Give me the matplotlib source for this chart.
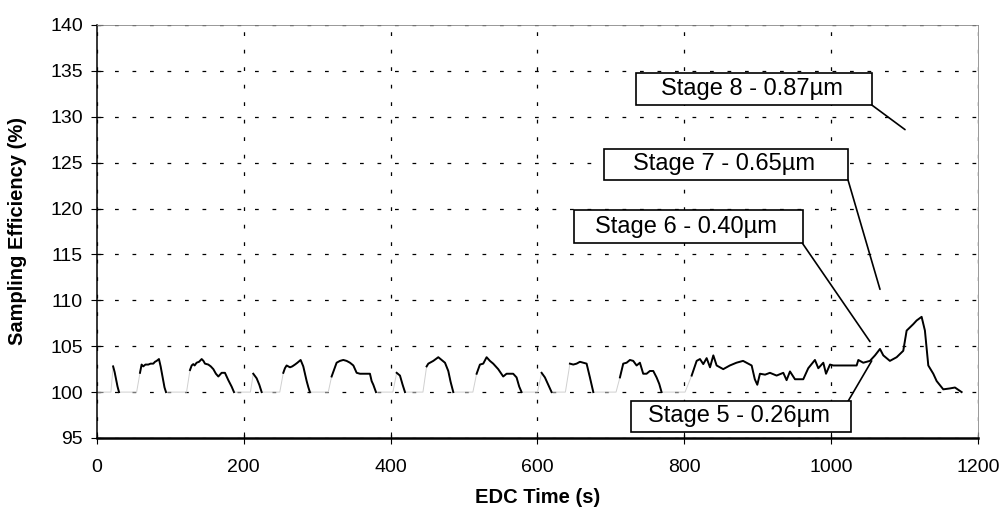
import numpy as np
import matplotlib.pyplot as plt
from matplotlib.patches import Rectangle

plt.rcParams['font.family'] = ['Liberation Sans', 'DejaVu Sans']

# pulses (time in s, efficiency in %)
pulse_times = [
    [22, 24, 26, 28, 30],
    [58.6, 60.8, 63, 66, 70, 73, 76.7, 79, 81.3, 84.4, 86.7, 88.5, 90.3, 92, 94],
    [126.7, 129, 131.2, 133, 135.7, 139, 142.6, 145, 147.1, 151.6, 155, 158.5, 162,
     165.3, 167.5, 169.8, 174.3, 176, 178.9, 183.4, 186.6],
    [212.9, 217.5, 221.1, 224.3],
    [253.8, 256, 258.3, 262.9, 266, 269.7, 273, 277.4, 281, 283, 285.6, 288, 290],
    [319.6, 326.4, 331, 335.5, 340, 344.6, 349.2, 353.7, 358.2, 362.8, 367.3, 371.8,
     374.1, 376.4, 380],
    [408.2, 412.7, 416.3, 419.5],
    [449, 451.3, 458.1, 464.9, 469.4, 474, 478.5, 481.7, 485.3],
    [517.1, 521.6, 526.1, 530.7, 535.2, 539.7, 546.5, 553.3, 557.9, 562.4, 566.9,
     571.5, 575.1, 578.3],
    [605.6, 610.1, 614.7, 619.2],
    [644.2, 648.7, 653.3, 657.8, 662.3, 666.9, 671.4, 676],
    [712.3, 716.8, 721.4, 725.9, 730.4, 735, 739.5, 744, 748.6, 753.1, 757.7, 762.2,
     765.8, 769],
    [810, 816.8, 821.3, 825.8, 830.4, 835, 839.5, 844, 853, 862, 871, 880, 891.7, 896,
     899.4, 903, 910, 916.6, 925.7, 934.8, 939.3, 943.9, 950.7, 962, 968.8, 977.9,
     982.5, 989.3, 993, 998.4, 1002.9, 1016.5, 1034.7, 1037, 1043.7, 1052.8, 1059.7,
     1066.5, 1071, 1080, 1089.2, 1098.2, 1102.8, 1107.3, 1111.8, 1116.4, 1123.2,
     1127.7, 1132.3, 1139.1, 1143.7, 1152.7, 1161.8, 1168.6, 1177.7],
]
pulse_effs = [
    [102.8, 102.2, 101.4, 100.6, 100.0],
    [102.1, 103.0, 102.8, 103.0, 103.0, 103.1, 103.1, 103.3, 103.4, 103.6, 102.8,
     102.0, 101.2, 100.5, 100.0],
    [102.4, 102.9, 103.05, 102.9, 103.2, 103.3, 103.6, 103.4, 103.1, 103.0, 102.8,
     102.5, 102.0, 101.7, 101.9, 102.1, 102.1, 101.8, 101.3, 100.6, 100.0],
    [102.0, 101.5, 100.8, 100.0],
    [102.1, 102.6, 102.9, 102.7, 102.8, 103.0, 103.2, 103.5, 102.8, 102.1, 101.2,
     100.5, 100.0],
    [101.7, 103.2, 103.4, 103.5, 103.4, 103.2, 102.9, 102.1, 102.0, 102.0, 102.0,
     102.0, 101.2, 100.8, 100.0],
    [102.1, 101.8, 100.8, 100.0],
    [102.8, 103.1, 103.4, 103.8, 103.5, 103.2, 102.3, 101.1, 100.0],
    [102.0, 103.0, 103.1, 103.8, 103.4, 103.1, 102.5, 101.7, 102.0, 102.0, 102.0,
     101.6, 100.6, 100.0],
    [102.1, 101.6, 100.8, 100.0],
    [103.1, 103.0, 103.1, 103.3, 103.2, 103.1, 101.6, 100.0],
    [101.6, 103.1, 103.2, 103.5, 103.4, 102.9, 103.2, 102.0, 102.0, 102.3, 102.3,
     101.6, 100.9, 100.0],
    [101.8, 103.4, 103.6, 103.05, 103.7, 102.7, 104.0, 102.9, 102.5, 102.9, 103.2,
     103.4, 102.9, 101.4, 100.8, 102.0, 101.9, 102.1, 101.8, 102.1, 101.3, 102.25,
     101.4, 101.4, 102.6, 103.5, 102.6, 103.2, 102.0, 103.0, 102.9, 102.9, 102.9,
     103.5, 103.2, 103.4, 104.0, 104.7, 104.0, 103.4, 103.8, 104.5, 106.7, 107.05,
     107.4, 107.8, 108.2, 106.7, 102.9, 102.0, 101.2, 100.3, 100.4, 100.5, 100.0],
]
# time at which each pulse leaves the 100 % baseline
rise_start = [19, 54, 122, 209, 249, 315, 403, 444, 512, 600, 638, 707, 801]
baseline = 100.0

labels = ["Stage 8 - 0.87µm", "Stage 7 - 0.65µm", "Stage 6 - 0.40µm", "Stage 5 - 0.26µm"]
# label boxes (x0, x1, y0, y1) and where their leader lines point
label_boxes = [(734, 1055, 131.3, 134.8), (691, 1023, 123.1, 126.5),
               (650, 961, 116.2, 119.8), (727, 1027, 95.7, 99.0)]
leader_from = [(1055, 131.3), (1023, 123.1), (961, 116.2), (1023, 99.0)]
leader_to = [(1100.6, 128.6), (1066.5, 111.2), (1052.9, 105.5), (1055.2, 103.4)]

# faint baseline trace and dark pulse trace
base_t, base_v = [0.0], [baseline]
sig_t, sig_v = [], []
for start, ts, vs in zip(rise_start, pulse_times, pulse_effs):
    base_t += [start] + ts
    base_v += [baseline] + vs
    sig_t += ts + [np.nan]
    sig_v += vs + [np.nan]

fig = plt.figure(figsize=(10.07, 5.14), dpi=100)
ax = fig.add_axes([0.0963, 0.1479, 0.8749, 0.8035])

ax.plot(base_t, base_v, color='#d0d0d0', lw=0.7, zorder=2)
ax.plot(sig_t, sig_v, color='black', lw=1.4, zorder=3)

ax.set_xlim(0, 1200)
ax.set_ylim(95, 140)
ax.set_xticks(np.arange(0, 1201, 200))
ax.set_yticks(np.arange(95, 141, 5))
ax.grid(True, color='black', linestyle=(0, (3, 11)), lw=0.9)
ax.set_axisbelow(True)

ax.spines['left'].set_linewidth(1.1)
ax.spines['bottom'].set_linewidth(1.8)
for s in ['top', 'right']:
    ax.spines[s].set_color('#888888')
    ax.spines[s].set_linewidth(0.6)

ax.tick_params(axis='both', direction='inout', length=8, width=0.8,
               labelsize=14, colors='black')
ax.tick_params(axis='x', pad=11)
ax.tick_params(axis='y', pad=6)

ax.set_xlabel("EDC Time (s)", fontsize=14.5, fontweight='bold')
ax.set_ylabel("Sampling Efficiency (%)", fontsize=14.5, fontweight='bold')
ax.xaxis.set_label_coords(0.5, -0.12)
ax.yaxis.set_label_coords(-0.0795, 0.5)

for lab, (x0, x1, y0, y1), p0, p1 in zip(labels, label_boxes, leader_from, leader_to):
    ax.add_patch(Rectangle((x0, y0), x1 - x0, y1 - y0, facecolor='white',
                           edgecolor='black', lw=1.2, zorder=5, clip_on=False))
    ax.text((x0 + x1) / 2 - 3, (y0 + y1) / 2, lab, fontsize=17, ha='center',
            va='center', zorder=6)
    ax.annotate('', xy=p1, xytext=p0,
                arrowprops=dict(arrowstyle='-', lw=1.2, color='black',
                                shrinkA=0, shrinkB=0), zorder=4)

fig.savefig("out.png", dpi=100)
